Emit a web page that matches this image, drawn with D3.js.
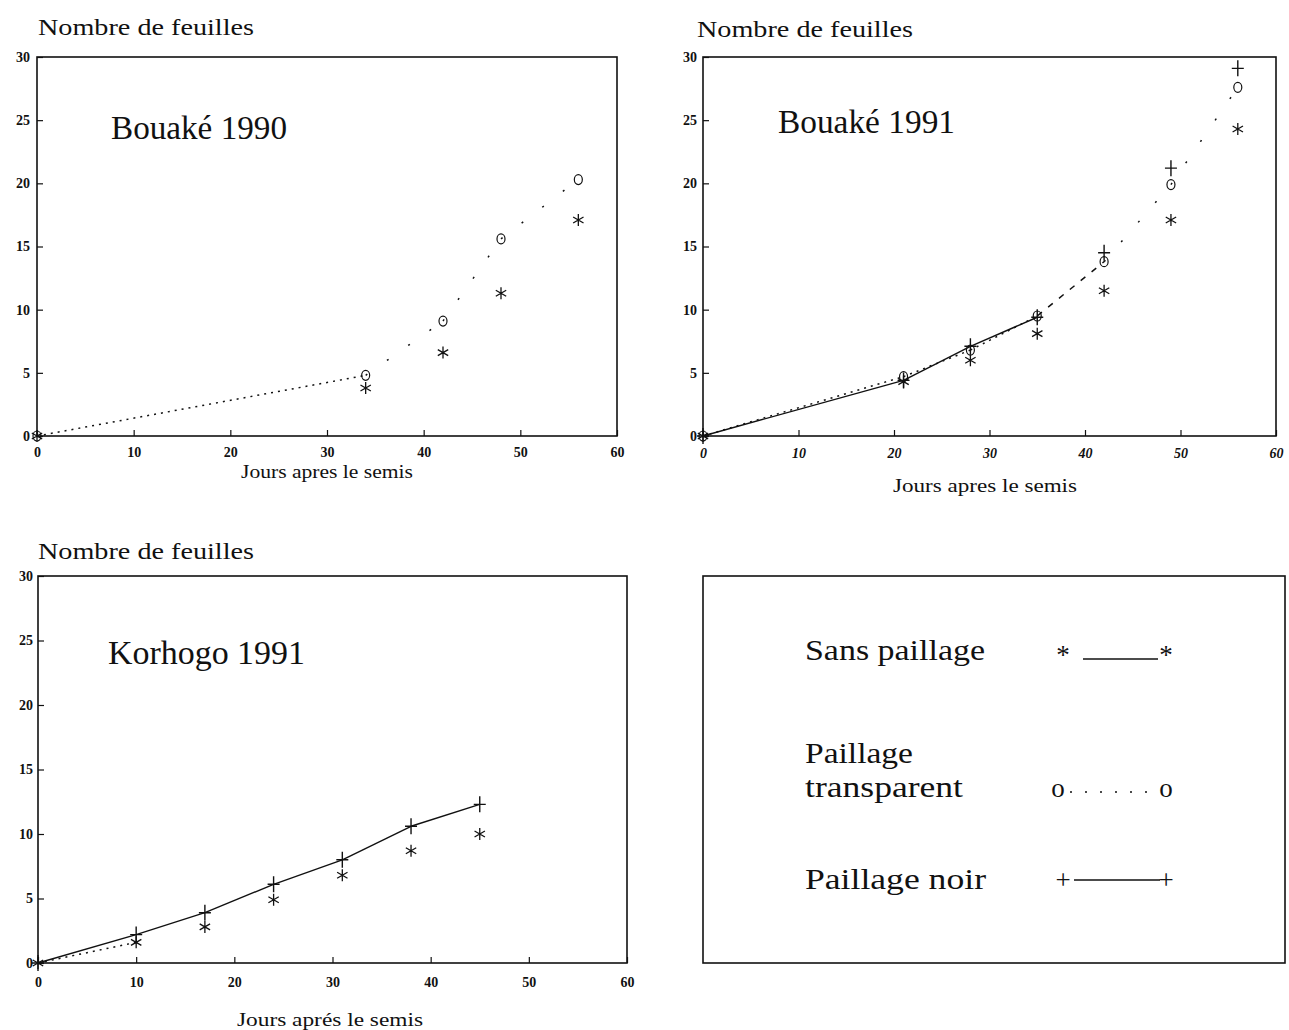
<!DOCTYPE html>
<html>
<head>
<meta charset="utf-8">
<script src="https://cdn.jsdelivr.net/npm/d3@7"></script>
<style>
  html, body { margin: 0; padding: 0; background: #fff; }
  svg { display: block; }
  .tick text { font-family: "Liberation Serif", serif; font-weight: bold; font-size: 14px; fill: #111; }
  .tick line { stroke: #111; stroke-width: 1.2; }
</style>
</head>
<body>
<svg id="chart" width="1289" height="1030"></svg>
<script>
// Bouaké 1990
const days1990 = [0, 34, 42, 48, 56];
const b90Sans = [0, 3.8, 6.6, 11.3, 17.1];
const b90Transp = [0, 4.8, 9.1, 15.6, 20.3];

// Bouaké 1991
const days1991 = [0, 21, 28, 35, 42, 49, 56];
const b91Sans = [0, 4.3, 6.0, 8.1, 11.5, 17.1, 24.3];
const b91Transp = [0, 4.7, 6.8, 9.5, 13.8, 19.9, 27.6];
const b91Noir = [0, 4.4, 7.1, 9.4, 14.5, 21.2, 29.1];

// Korhogo 1991
const daysKorhogo = [0, 10, 17, 24, 31, 38, 45];
const korSans = [0, 1.6, 2.8, 4.9, 6.8, 8.7, 10.0];
const korNoir = [0, 2.2, 3.9, 6.1, 8.0, 10.6, 12.3];

const xTicks = [0, 10, 20, 30, 40, 50, 60];
const yTicks = [0, 5, 10, 15, 20, 25, 30];

const legendLabels = [["Sans paillage"], ["Paillage", "transparent"], ["Paillage noir"]];
const legendGlyphs = ["*", "o", "+"];

const svg = d3.select('#chart');
const serif = '"Liberation Serif", "Times New Roman", serif';

// line styles per segment: 'solid', 'dot' (dense), 'dash', 'sparse'
const DASH = { solid: null, dot: '2,5', dash: '6,8', sparse: '2,24' };

const panels = [
  {
    name: 'Bouaké 1990', box: [37, 57, 617, 436],
    yTitleAt: [38, 35], nameAt: [111, 139, 176], xTitle: 'Jours apres le semis', xTitleAt: [327, 478, 172],
    xPad: 11, yPad: 7, italic: false,
    days: days1990,
    series: [
      { v: b90Transp, mark: 'circle', segs: ['dot', 'sparse', 'sparse', 'sparse'] },
      { v: b90Sans, mark: 'star' }
    ]
  },
  {
    name: 'Bouaké 1991', box: [703, 57, 1276, 436],
    yTitleAt: [697, 37], nameAt: [778, 133, 177], xTitle: 'Jours apres le semis', xTitleAt: [985, 492, 184],
    xPad: 12, yPad: 6, italic: true,
    days: days1991,
    series: [
      { v: b91Transp, mark: 'circle', segs: ['dot', 'dot', 'dot', 'dash', 'sparse', 'sparse'] },
      { v: b91Noir, mark: 'plus', segs: ['solid', 'solid', 'solid'] },
      { v: b91Sans, mark: 'star' }
    ]
  },
  {
    name: 'Korhogo 1991', box: [38, 576, 627, 963],
    yTitleAt: [38, 559], nameAt: [108, 664, 197], xTitle: 'Jours aprés le semis', xTitleAt: [330, 1026, 186],
    xPad: 14, yPad: 5, italic: false,
    days: daysKorhogo,
    series: [
      { v: korSans, mark: 'star', segs: ['dot'] },
      { v: korNoir, mark: 'plus', segs: ['solid', 'solid', 'solid', 'solid', 'solid', 'solid'] }
    ]
  }
];

function drawMarker(g, type, x, y) {
  if (type === 'circle') {
    g.append('ellipse').attr('cx', x).attr('cy', y).attr('rx', 4).attr('ry', 5)
      .attr('fill', 'none').attr('stroke', '#111').attr('stroke-width', 1.2);
  } else if (type === 'plus') {
    g.append('path').attr('d', `M${x},${y - 8}L${x},${y + 8}M${x - 6},${y}L${x + 6},${y}`)
      .attr('stroke', '#111').attr('stroke-width', 1.4).attr('fill', 'none');
  } else {
    const a = 5.2, b = 3;
    g.append('path').attr('d', `M${x},${y - 6}L${x},${y + 6}M${x - a},${y - b}L${x + a},${y + b}M${x - a},${y + b}L${x + a},${y - b}`)
      .attr('stroke', '#111').attr('stroke-width', 1.3).attr('fill', 'none');
  }
}

panels.forEach(p => {
  const [x0, y0, x1, y1] = p.box;
  const x = d3.scaleLinear().domain([0, 60]).range([x0, x1]);
  const y = d3.scaleLinear().domain([0, 30]).range([y1, y0]);
  const g = svg.append('g');

  // axes, ticks pointing inward
  const xa = g.append('g').attr('transform', `translate(0,${y1})`)
    .call(d3.axisBottom(x).tickValues(xTicks).tickSize(-6).tickPadding(p.xPad).tickFormat(d3.format('d')));
  const ya = g.append('g').attr('transform', `translate(${x0},0)`)
    .call(d3.axisLeft(y).tickValues(yTicks).tickSize(-6).tickPadding(p.yPad).tickFormat(d3.format('d')));
  xa.select('.domain').remove();
  ya.select('.domain').remove();
  if (p.italic) xa.selectAll('text').style('font-style', 'italic');

  // frame
  g.append('rect').attr('x', x0).attr('y', y0).attr('width', x1 - x0).attr('height', y1 - y0)
    .attr('fill', 'none').attr('stroke', '#111').attr('stroke-width', 1.6);

  // connecting lines, one segment at a time so the dash style can change
  const line = d3.line().x(d => x(d[0])).y(d => y(d[1]));
  p.series.filter(s => s.segs).forEach(s => {
    s.segs.forEach((style, i) => {
      const seg = [[p.days[i], s.v[i]], [p.days[i + 1], s.v[i + 1]]];
      g.append('path').datum(seg).attr('d', line)
        .attr('fill', 'none').attr('stroke', '#111')
        .attr('stroke-width', style === 'solid' ? 1.4 : 1.5)
        .attr('stroke-dasharray', DASH[style]);
    });
  });

  // markers
  p.series.forEach(s => {
    p.days.forEach((d, i) => drawMarker(g, s.mark, x(d), y(s.v[i])));
  });

  // texts
  g.append('text').attr('x', p.yTitleAt[0]).attr('y', p.yTitleAt[1])
    .attr('font-family', serif).attr('font-size', 24).attr('textLength', 216)
    .attr('lengthAdjust', 'spacingAndGlyphs').attr('fill', '#111').text('Nombre de feuilles');
  g.append('text').attr('x', p.nameAt[0]).attr('y', p.nameAt[1])
    .attr('font-family', serif).attr('font-size', 33).attr('textLength', p.nameAt[2])
    .attr('lengthAdjust', 'spacingAndGlyphs').attr('fill', '#111').text(p.name);
  g.append('text').attr('x', p.xTitleAt[0] - p.xTitleAt[2] / 2).attr('y', p.xTitleAt[1])
    .attr('font-family', serif).attr('font-size', 19).attr('textLength', p.xTitleAt[2])
    .attr('lengthAdjust', 'spacingAndGlyphs').attr('fill', '#111').text(p.xTitle);
});

// legend box
const lg = svg.append('g');
lg.append('rect').attr('x', 703).attr('y', 576).attr('width', 582).attr('height', 387)
  .attr('fill', 'none').attr('stroke', '#111').attr('stroke-width', 1.6);

const rowBase = [660, 797, 889];
const labelWidths = [[180], [108, 158], [181]];
legendLabels.forEach((lines, i) => {
  lines.forEach((t, j) => {
    const by = rowBase[i] - (lines.length - 1 - j) * 34;
    lg.append('text').attr('x', 805).attr('y', by)
      .attr('font-family', serif).attr('font-size', 29)
      .attr('textLength', labelWidths[i][j]).attr('lengthAdjust', 'spacingAndGlyphs')
      .attr('fill', '#111').text(t);
  });
  const by = rowBase[i];
  const glyph = legendGlyphs[i];
  const gx0 = glyph === 'o' ? 1058 : 1063;
  const gx1 = 1166;
  [gx0, gx1].forEach(gx => {
    lg.append('text').attr('x', gx).attr('y', by + (glyph === '*' ? 4 : 0))
      .attr('text-anchor', 'middle').attr('font-family', serif).attr('font-size', 27)
      .attr('fill', '#111').text(glyph);
  });
  if (glyph === '*') {
    lg.append('line').attr('x1', 1083).attr('x2', 1158).attr('y1', by - 1).attr('y2', by - 1)
      .attr('stroke', '#111').attr('stroke-width', 1.3);
  } else if (glyph === 'o') {
    lg.append('line').attr('x1', 1070).attr('x2', 1160).attr('y1', by - 5).attr('y2', by - 5)
      .attr('stroke', '#111').attr('stroke-width', 1.6).attr('stroke-dasharray', '2,13');
  } else {
    lg.append('line').attr('x1', 1074).attr('x2', 1160).attr('y1', by - 9).attr('y2', by - 9)
      .attr('stroke', '#111').attr('stroke-width', 1.3);
  }
});
</script>
</body>
</html>
